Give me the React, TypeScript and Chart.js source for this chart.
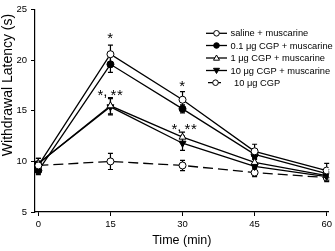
import React, { useEffect, useRef } from "react";
import { Chart, registerables } from "chart.js";

Chart.register(...registerables);

const times = [0, 15, 30, 45, 60];
const xTicks = [0, 15, 30, 45, 60];
const yTicks = [5, 10, 15, 20, 25];

const seriesNames = [
  "saline + muscarine",
  "0.1 μg CGP + muscarine",
  "1 μg CGP + muscarine",
  "10 μg CGP + muscarine",
  "10 μg CGP",
];

const saline = [9.6, 20.6, 16.1, 11.0, 9.1];
const cgp01 = [9.1, 19.6, 15.2, 10.7, 8.8];
const cgp1 = [9.8, 15.5, 12.4, 9.9, 8.6];
const cgp10m = [9.8, 15.4, 11.8, 9.5, 8.5];
const cgp10 = [9.6, 10.0, 9.6, 8.9, 8.4];

const salineErr = [0.4, 0.9, 0.8, 0.7, 0.7];
const cgp01Err = [0.4, 0.8, 0.4, 0.5, 0.4];
const cgp1Err = [0.5, 0.8, 0.5, 0.5, 0.4];
const cgp10mErr = [0.5, 0.8, 0.7, 0.4, 0.4];
const cgp10Err = [0.4, 0.8, 0.5, 0.4, 0.4];

const annX = [15, 30, 15, 30.4];
const annY = [22.2, 17.5, 16.6, 13.2];
const annText = ["*", "*", "*, **", "*, **"];

const FONT = "Arial, 'Liberation Sans', Helvetica, sans-serif";

const values = [saline, cgp01, cgp1, cgp10m, cgp10];
const errors = [salineErr, cgp01Err, cgp1Err, cgp10mErr, cgp10Err];
const pointStyles = ["circle", "circle", "triangle", "triangle", "circle"];
const rotations = [0, 0, 0, 180, 0];
const fills = ["#ffffff", "#000000", "#ffffff", "#000000", "#ffffff"];
const radii = [3.5, 3.5, 4, 4, 3.5];
const dashes: number[][] = [[], [], [], [], [10, 5]];

const extrasPlugin = {
  id: "extras",
  beforeDatasetsDraw(chart: any) {
    const { ctx, scales } = chart;
    const xs = scales.x;
    const ys = scales.y;
    ctx.save();
    ctx.strokeStyle = "#000";
    ctx.lineWidth = 1.2;
    values.forEach((vals, si) => {
      vals.forEach((v, i) => {
        const e = errors[si][i];
        const px = xs.getPixelForValue(times[i]);
        const top = ys.getPixelForValue(v + e);
        const bot = ys.getPixelForValue(v - e);
        ctx.beginPath();
        ctx.moveTo(px, top);
        ctx.lineTo(px, bot);
        ctx.moveTo(px - 2.5, top);
        ctx.lineTo(px + 2.5, top);
        ctx.moveTo(px - 2.5, bot);
        ctx.lineTo(px + 2.5, bot);
        ctx.stroke();
      });
    });
    ctx.restore();
  },
  afterDraw(chart: any) {
    const { ctx, scales, chartArea } = chart;
    const xs = scales.x;
    const ys = scales.y;
    ctx.save();
    ctx.fillStyle = "#000";
    // annotations
    ctx.font = `15px ${FONT}`;
    try {
      (ctx as any).letterSpacing = "0.6px";
    } catch (e) {}
    ctx.textBaseline = "alphabetic";
    annText.forEach((t, i) => {
      const px = xs.getPixelForValue(annX[i]);
      const py = ys.getPixelForValue(annY[i]);
      const parts = t.split(", ");
      if (parts.length === 1) {
        ctx.textAlign = "center";
        ctx.fillText(t, px, py + 5);
      } else {
        ctx.textAlign = "left";
        const w1 = ctx.measureText(parts[0]).width;
        const wc = ctx.measureText(",").width;
        const gap = 2;
        const w2 = ctx.measureText(parts[1]).width;
        const total = w1 + wc + gap + w2;
        let x0 = px - total / 2;
        ctx.fillText(parts[0], x0, py + 5);
        x0 += w1;
        ctx.fillText(",", x0 - 0.5, py + 1.5);
        x0 += wc + gap;
        ctx.fillText(parts[1], x0, py + 5);
      }
    });
    try {
      (ctx as any).letterSpacing = "0px";
    } catch (e) {}
    // axis titles
    ctx.textAlign = "center";
    ctx.font = `12.5px ${FONT}`;
    ctx.textBaseline = "middle";
    ctx.fillText("Time (min)", (chartArea.left + chartArea.right) / 2, 241);
    ctx.save();
    ctx.translate(8, 85);
    ctx.rotate(-Math.PI / 2);
    ctx.font = `14px ${FONT}`;
    ctx.fillText("Withdrawal Latency (s)", 0, 0);
    ctx.restore();
    // legend
    const rowY = [33.3, 45.5, 58, 70.5, 82.7];
    ctx.font = `9.3px ${FONT}`;
    ctx.textAlign = "left";
    seriesNames.forEach((name, i) => {
      const y = rowY[i];
      ctx.strokeStyle = "#000";
      ctx.lineWidth = 1.3;
      ctx.setLineDash(dashes[i].length ? [5, 3] : []);
      ctx.beginPath();
      if (i === 4) {
        ctx.moveTo(208, y);
        ctx.lineTo(223, y);
      } else {
        ctx.moveTo(206, y);
        ctx.lineTo(227, y);
      }
      ctx.stroke();
      ctx.setLineDash([]);
      const cx = i === 4 ? 215.5 : 216.5;
      ctx.fillStyle = fills[i];
      ctx.lineWidth = 1;
      ctx.beginPath();
      if (pointStyles[i] === "circle") {
        ctx.arc(cx, y, 2.8, 0, Math.PI * 2);
      } else if (rotations[i] === 0) {
        ctx.moveTo(cx, y - 3);
        ctx.lineTo(cx + 3, y + 2.2);
        ctx.lineTo(cx - 3, y + 2.2);
        ctx.closePath();
      } else {
        ctx.moveTo(cx, y + 3);
        ctx.lineTo(cx + 3, y - 2.2);
        ctx.lineTo(cx - 3, y - 2.2);
        ctx.closePath();
      }
      ctx.fill();
      ctx.stroke();
      ctx.fillStyle = "#000";
      ctx.textBaseline = "middle";
      ctx.fillText(name, i === 4 ? 234 : 230.5, y + 0.5);
    });
    ctx.restore();
  },
};

export default function App() {
  const ref = useRef<HTMLCanvasElement>(null);
  useEffect(() => {
    document.body.style.margin = "0";
    const canvas = ref.current;
    if (!canvas) return;
    const chart = new Chart(canvas, {
      type: "line",
      data: {
        datasets: values.map((vals, si) => ({
          label: seriesNames[si],
          data: vals.map((v, i) => ({ x: times[i], y: v })),
          borderColor: "#000",
          borderWidth: 1.3,
          borderDash: dashes[si],
          backgroundColor: fills[si],
          pointBackgroundColor: fills[si],
          pointBorderColor: "#000",
          pointBorderWidth: 1,
          pointStyle: pointStyles[si] as any,
          pointRotation: rotations[si],
          pointRadius: radii[si],
          tension: 0,
          fill: false,
        })),
      },
      options: {
        responsive: false,
        animation: false,
        events: [],
        layout: { padding: { top: 4, right: 5, left: 0, bottom: 0 } },
        plugins: {
          legend: { display: false },
          tooltip: { enabled: false },
          title: { display: false },
        },
        scales: {
          x: {
            type: "linear",
            min: -0.7,
            max: 60.4,
            afterBuildTicks: (scale: any) => {
              scale.ticks = xTicks.map((v) => ({ value: v }));
            },
            afterFit: (scale: any) => {
              scale.height = 39;
            },
            grid: {
              drawOnChartArea: false,
              drawTicks: true,
              tickLength: 4,
              color: "#000",
              lineWidth: 1,
            },
            border: { display: true, color: "#000", width: 1.2 },
            ticks: {
              color: "#000",
              font: { family: FONT, size: 9.5 },
              padding: 3,
              maxRotation: 0,
              autoSkip: false,
            },
          },
          y: {
            type: "linear",
            min: 5,
            max: 25,
            afterBuildTicks: (scale: any) => {
              scale.ticks = yTicks.map((v) => ({ value: v }));
            },
            afterFit: (scale: any) => {
              scale.width = 35;
            },
            grid: {
              drawOnChartArea: false,
              drawTicks: true,
              tickLength: 4,
              color: "#000",
              lineWidth: 1,
            },
            border: { display: true, color: "#000", width: 1.2 },
            ticks: {
              color: "#000",
              font: { family: FONT, size: 9.5 },
              padding: 4,
              autoSkip: false,
            },
          },
        },
      },
      plugins: [extrasPlugin],
    });
    return () => chart.destroy();
  }, []);
  return (
    <div style={{ width: 335, height: 251, background: "#fff" }}>
      <canvas ref={ref} width={335} height={251} style={{ display: "block", width: 335, height: 251 }} />
    </div>
  );
}
